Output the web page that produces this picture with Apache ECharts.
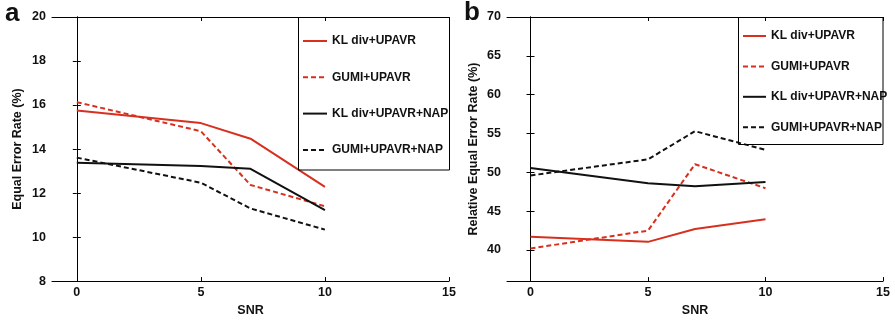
<!DOCTYPE html>
<html><head><meta charset="utf-8">
<script src="https://cdn.jsdelivr.net/npm/echarts@6/dist/echarts.min.js"></script>
<style>html,body{margin:0;padding:0;background:#fff}#c{width:895px;height:322px}</style>
</head><body><div id="c"></div>
<script>
const snr = [0, 5, 7, 10];
const seriesNames = ['KL div+UPAVR', 'GUMI+UPAVR', 'KL div+UPAVR+NAP', 'GUMI+UPAVR+NAP'];
// Panel a: Equal Error Rate (%)
const eerKL = [15.75, 15.18, 14.47, 12.28];
const eerGUMI = [16.13, 14.81, 12.37, 11.40];
const eerKLNAP = [13.38, 13.23, 13.10, 11.22];
const eerGUMINAP = [13.61, 12.47, 11.30, 10.34];
// Panel b: Relative Equal Error Rate (%)
const relKL = [41.7, 41.05, 42.7, 43.96];
const relGUMI = [40.2, 42.5, 51.05, 47.96];
const relKLNAP = [50.55, 48.6, 48.2, 48.75];
const relGUMINAP = [49.6, 51.67, 55.3, 52.9];
const xTicks = [0, 5, 10, 15];
const yTicksA = [8, 10, 12, 14, 16, 18, 20];
const yTicksB = [40, 45, 50, 55, 60, 65, 70];

const RED = '#d7301f', BLACK = '#111';
const FONT = 'Liberation Sans, Arial, sans-serif';
const styles = [
  {color: RED, type: 'solid'},
  {color: RED, type: [5, 3]},
  {color: BLACK, type: 'solid'},
  {color: BLACK, type: [5, 3]}
];
const pair = (xs, ys) => xs.map((x, i) => [x, ys[i]]);

function xAxes(gi) {
  const base = {type: 'value', gridIndex: gi, min: -1, max: 15,
    axisLine: {show: true, lineStyle: {color: '#000', width: 1}},
    axisTick: {show: true, inside: true, length: 4, customValues: xTicks, lineStyle: {color: '#000'}},
    splitLine: {show: false}};
  return [
    Object.assign({}, base, {position: 'bottom', name: 'SNR', nameLocation: 'middle', nameGap: 16,
      nameTextStyle: {fontFamily: FONT, fontWeight: 'bold', fontSize: 12.5, color: '#111'},
      axisLabel: {customValues: xTicks, margin: 5, fontFamily: FONT, fontWeight: 'bold', fontSize: 12.5, color: '#111'}}),
    Object.assign({}, base, {position: 'top', axisLabel: {show: false}})
  ];
}
function yAxes(gi, min, max, ticks, name, gap) {
  const base = {type: 'value', gridIndex: gi, min: min, max: max,
    axisLine: {show: true, lineStyle: {color: '#000', width: 1}},
    axisTick: {show: true, inside: true, length: 4, customValues: ticks, lineStyle: {color: '#000'}},
    splitLine: {show: false}};
  return [
    Object.assign({}, base, {position: 'left', name: name, nameLocation: 'middle', nameGap: gap,
      nameTextStyle: {fontFamily: FONT, fontWeight: 'bold', fontSize: 12.5, color: '#111'},
      axisLabel: {customValues: ticks, margin: 6, fontFamily: FONT, fontWeight: 'bold', fontSize: 12.5, color: '#111'}}),
    Object.assign({}, base, {position: 'right', axisLabel: {show: false}})
  ];
}
function mkSeries(datas, xi, yi) {
  return datas.map((d, i) => ({
    type: 'line', name: seriesNames[i] + (xi ? ' ' : ''), xAxisIndex: xi, yAxisIndex: yi,
    data: pair(snr, d), symbol: 'none', smooth: false,
    lineStyle: {color: styles[i].color, type: styles[i].type, width: 2},
    itemStyle: {color: styles[i].color}
  }));
}
const legendText = {fontFamily: FONT, fontWeight: 'bold', fontSize: 12, color: '#111'};
const chart = echarts.init(document.getElementById('c'), null, {renderer: 'canvas'});
chart.setOption({
  animation: false,
  backgroundColor: '#fff',
  grid: [
    {left: 52, top: 17, width: 397, height: 273},
    {left: 507, top: 17, width: 376, height: 273}
  ],
  xAxis: xAxes(0).concat(xAxes(1)),
  yAxis: yAxes(0, 8, 20, yTicksA, 'Equal Error Rate (%)', 28).concat(yAxes(1, 36, 70, yTicksB, 'Relative Equal Error Rate (%)', 27)),
  series: mkSeries([eerKL, eerGUMI, eerKLNAP, eerGUMINAP], 0, 0)
    .concat(mkSeries([relKL, relGUMI, relKLNAP, relGUMINAP], 2, 2)),
  legend: [
    {data: seriesNames, orient: 'vertical', left: 302, top: 35, itemWidth: 24, itemHeight: 14,
     itemStyle: {opacity: 0}, lineStyle: {opacity: 1},
     itemGap: 24.3, textStyle: legendText, padding: 0, selectedMode: false},
    {data: seriesNames.map(s => s + ' '), orient: 'vertical', left: 742, top: 30, itemWidth: 23, itemHeight: 14,
     itemStyle: {opacity: 0}, lineStyle: {opacity: 1},
     itemGap: 18.4, textStyle: legendText, padding: 0, selectedMode: false}
  ],
  graphic: [
    {type: 'rect', shape: {x: 298.5, y: 17.5, width: 151, height: 152.5}, style: {fill: 'none', stroke: '#000', lineWidth: 1}, z: 10},
    {type: 'rect', shape: {x: 738.5, y: 17.5, width: 144.5, height: 127}, style: {fill: 'none', stroke: '#000', lineWidth: 1}, z: 10},
    {type: 'text', left: 5, top: 1, style: {text: 'a', font: 'bold 26px ' + FONT, fill: '#111'}},
    {type: 'text', left: 464, top: 0, style: {text: 'b', font: 'bold 26px ' + FONT, fill: '#111'}}
  ]
});
</script></body></html>
